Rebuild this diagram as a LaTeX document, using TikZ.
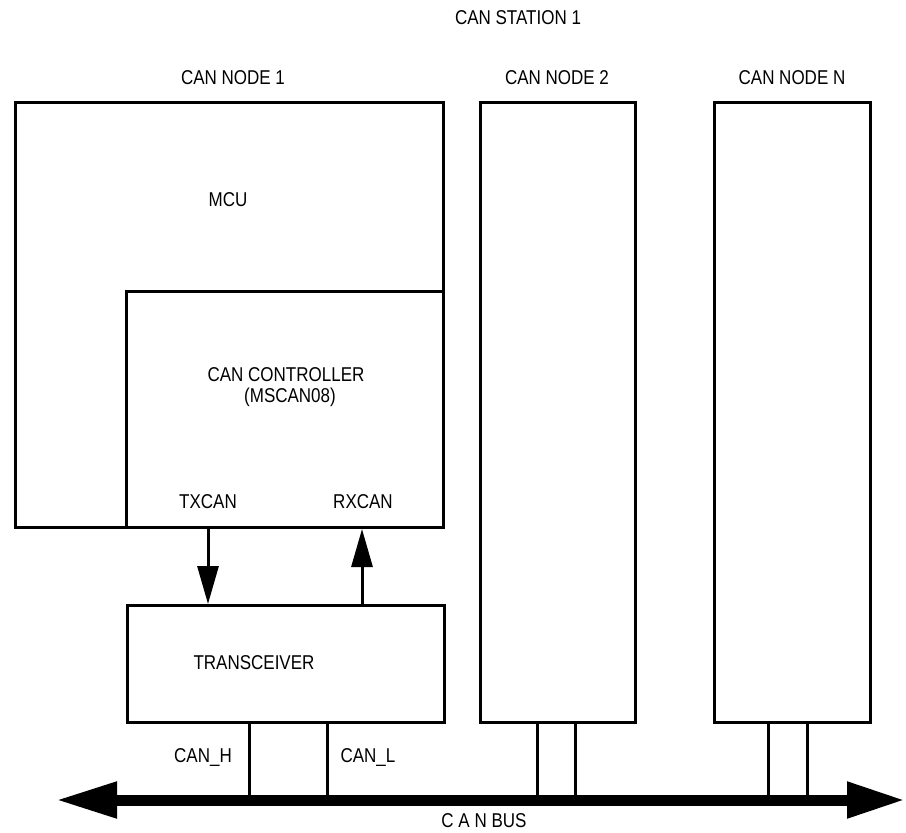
\documentclass[tikz,border=0pt]{standalone}
\usepackage{fontspec}
\newfontfamily\lblfont{Liberation Sans}[FakeStretch=0.85]
\usetikzlibrary{arrows.meta,calc}
\begin{document}
\begin{tikzpicture}[x=1pt,y=-1pt,
  box/.style={draw, line width=3pt, rectangle, inner sep=0pt, anchor=north west},
  lbl/.style={font=\lblfont\fontsize{20}{22}\selectfont, inner sep=0pt},
  sig/.style={line width=3pt, -{Triangle[length=38pt,width=21pt]}},
  wire/.style={line width=3pt},
  bus/.style={line width=11pt, {Triangle[length=61pt,width=34pt]}-{Triangle[length=58pt,width=34pt]}}]
\useasboundingbox (0,0) rectangle (906,833);
% boxes
\node[box, minimum width=428pt, minimum height=425pt] (mcu) at (14,101) {};
\node[box, minimum width=317pt, minimum height=236pt] (ctrl) at (125,290) {};
\node[box, minimum width=317pt, minimum height=117pt] (trx) at (126,604) {};
\node[box, minimum width=155pt, minimum height=620pt] (n2) at (479,101) {};
\node[box, minimum width=156pt, minimum height=620pt] (nN) at (713,101) {};
% labels
\node[lbl] (st) at (518,18) {CAN STATION 1};
\node[lbl] (l1) at (233,78) {CAN NODE 1};
\node[lbl] (l2) at (557,78) {CAN NODE 2};
\node[lbl] (lN) at (792,78) {CAN NODE N};
\node[lbl] (mcut) at (228,200) {MCU};
\node[lbl] (ct1) at (286,375) {CAN CONTROLLER};
\node[lbl] (ct2) at (290,397) {(MSCAN08)};
\node[lbl] (tx) at (208,502) {TXCAN};
\node[lbl] (rx) at (363,502) {RXCAN};
\node[lbl] (trxt) at (254,663) {TRANSCEIVER};
\node[lbl] (ch) at (203,757) {CAN\_H};
\node[lbl] (cl) at (368,757) {CAN\_L};
\node[lbl] (bust) at (484,821) {C A N BUS};
% bus
\coordinate (busL) at (56,800);
\coordinate (busR) at (905,800);
\coordinate (b1) at (249,800);
\coordinate (b2) at (327,800);
\coordinate (b3) at (537,800);
\coordinate (b4) at (575,800);
\coordinate (b5) at (768,800);
\coordinate (b6) at (807,800);
\draw[bus] (busL) -- (busR);
% signals
\draw[sig] ($(ctrl.south west)+(83,0)$) -- ($(trx.north west)+(82,0)$);
\draw[sig] ($(trx.north west)+(236,0)$) -- ($(ctrl.south west)+(237,0)$);
% wires
\draw[wire] (b1 |- trx.south) -- (b1);
\draw[wire] (b2 |- trx.south) -- (b2);
\draw[wire] (b3 |- n2.south) -- (b3);
\draw[wire] (b4 |- n2.south) -- (b4);
\draw[wire] (b5 |- nN.south) -- (b5);
\draw[wire] (b6 |- nN.south) -- (b6);
\end{tikzpicture}
\end{document}
